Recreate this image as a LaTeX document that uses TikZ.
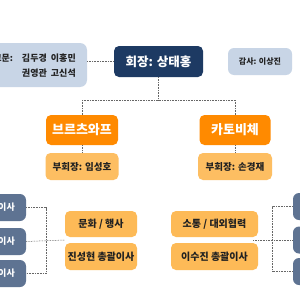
\documentclass[tikz,border=0pt]{standalone}
\usepackage{fontspec}
\setmainfont{Noto Sans CJK KR}
\usetikzlibrary{calc}
\definecolor{navy}{HTML}{1D3A63}
\definecolor{lblue}{HTML}{C8D5E6}
\definecolor{slate}{HTML}{5E7392}
\definecolor{orng}{HTML}{FF8A00}
\definecolor{lorng}{HTML}{FDBE62}
\definecolor{corng}{HTML}{FDBA57}
\definecolor{ink}{HTML}{222222}
\begin{document}
\begin{tikzpicture}[x=1pt,y=-1pt,
  box/.style={rectangle,rounded corners=5pt,inner sep=0pt,font=\bfseries},
  navybox/.style={box,fill=navy,text=white,font=\bfseries\fontsize{12.5}{14}\selectfont},
  bluebox/.style={box,fill=lblue,text=ink},
  orangebox/.style={box,fill=orng,text=white,font=\bfseries\fontsize{13}{15}\selectfont},
  vicebox/.style={box,fill=lorng,text=ink,font=\bfseries\fontsize{9.5}{11}\selectfont},
  culbox/.style={box,fill=corng,text=ink,font=\bfseries\fontsize{10}{12}\selectfont},
  slatebox/.style={box,rounded corners=6pt,fill=slate,text=white,font=\bfseries\fontsize{8.5}{10}\selectfont},
  conn/.style={draw=black!60,line width=0.5pt,dash pattern=on 0.8pt off 0.8pt}]
\useasboundingbox (0,0) rectangle (300,300);
\clip (0,0) rectangle (300,300);
\fill[white] (0,0) rectangle (300,300);
% top row
\node[bluebox,rounded corners=7pt,minimum width=120pt,minimum height=44pt] (adv) at (27,65) {};
\node[anchor=east,inner sep=0pt,text=ink,font=\bfseries\fontsize{9}{15}\selectfont,align=left] (advtext) at (76,65.5)
  {\begin{tabular}{@{}l@{\hspace{9pt}}l@{}}고문: & 김두경\ \ 이홍민\\[0pt] & 권영관\ \ 고신석\end{tabular}};
\node[navybox,minimum width=89pt,minimum height=31pt] (pres) at (158.5,61.5) {회장: 상태홍};
\node[bluebox,rounded corners=6pt,minimum width=64pt,minimum height=27pt,font=\bfseries\fontsize{8}{9}\selectfont] (aud) at (260,61.5) {감사: 이상진};
% branches
\node[orangebox,minimum width=72pt,minimum height=30pt] (br) at (82,130) {브르츠와프};
\node[orangebox,minimum width=71pt,minimum height=30pt] (ka) at (235,130) {카토비체};
\node[vicebox,minimum width=73pt,minimum height=27pt] (brv) at (82,166.5) {부회장: 임성호};
\node[vicebox,minimum width=74pt,minimum height=27pt] (kav) at (235,166.5) {부회장: 손경재};
% departments
\node[culbox,minimum width=72pt,minimum height=26pt] (cu1) at (101,224) {문화 / 행사};
\node[culbox,minimum width=72pt,minimum height=27pt] (cu2) at (101,256.5) {진성현 총괄이사};
\node[culbox,minimum width=87pt,minimum height=26pt] (so1) at (214.5,224) {소통 / 대외협력};
\node[culbox,minimum width=87pt,minimum height=27pt] (so2) at (214.5,256.5) {이수진 총괄이사};
% directors left
\node[slatebox,minimum width=60pt,minimum height=27pt] (l1) at (-4,207.5) {};
\node[slatebox,minimum width=60pt,minimum height=27pt] (l2) at (-4,241.5) {};
\node[slatebox,minimum width=60pt,minimum height=27pt] (l3) at (-4,273.5) {};
\node[anchor=east,inner sep=0pt,text=white,font=\bfseries\fontsize{9}{10}\selectfont] (l1t) at (15,207.5) {이사};
\node[anchor=east,inner sep=0pt,text=white,font=\bfseries\fontsize{9}{10}\selectfont] (l2t) at (15,241.5) {이사};
\node[anchor=east,inner sep=0pt,text=white,font=\bfseries\fontsize{9}{10}\selectfont] (l3t) at (15,273.5) {이사};
% directors right
\node[slatebox,minimum width=60pt,minimum height=27pt] (r1) at (323,206.5) {};
\node[slatebox,minimum width=60pt,minimum height=27pt] (r2) at (323,240) {};
\node[slatebox,minimum width=60pt,minimum height=27pt] (r3) at (323,271.5) {};
% connectors
\draw[conn] (adv.east |- pres.west) -- (pres.west);
\coordinate (bus) at (0,100);
\draw[conn] (pres.south) -- (pres.south |- bus);
\draw[conn] (br.north |- bus) -- (ka.north |- bus);
\draw[conn] (br.north |- bus) -- (br.north);
\draw[conn] (ka.north |- bus) -- (ka.north);
\draw[conn] (br.south) -- (brv.north);
\draw[conn] (ka.south) -- (kav.north);
% left bracket
\coordinate (lx) at (46,0);
\coordinate (cugap) at ($(cu1.south west)!0.5!(cu2.north west)$);
\draw[conn] (l1.east) -- (l1.east -| lx) -- (l3.east -| lx) -- (l3.east);
\draw[conn] (l2.east) -- (cugap);
% right bracket
\coordinate (rx) at (272,0);
\coordinate (sogap) at ($(so1.south east)!0.5!(so2.north east)+(-5,0)$);
\draw[conn] (r1.west) -- (r1.west -| rx) -- (r3.west -| rx) -- (r3.west);
\draw[conn] (sogap) -- (sogap -| r2.west);
\end{tikzpicture}
\end{document}
